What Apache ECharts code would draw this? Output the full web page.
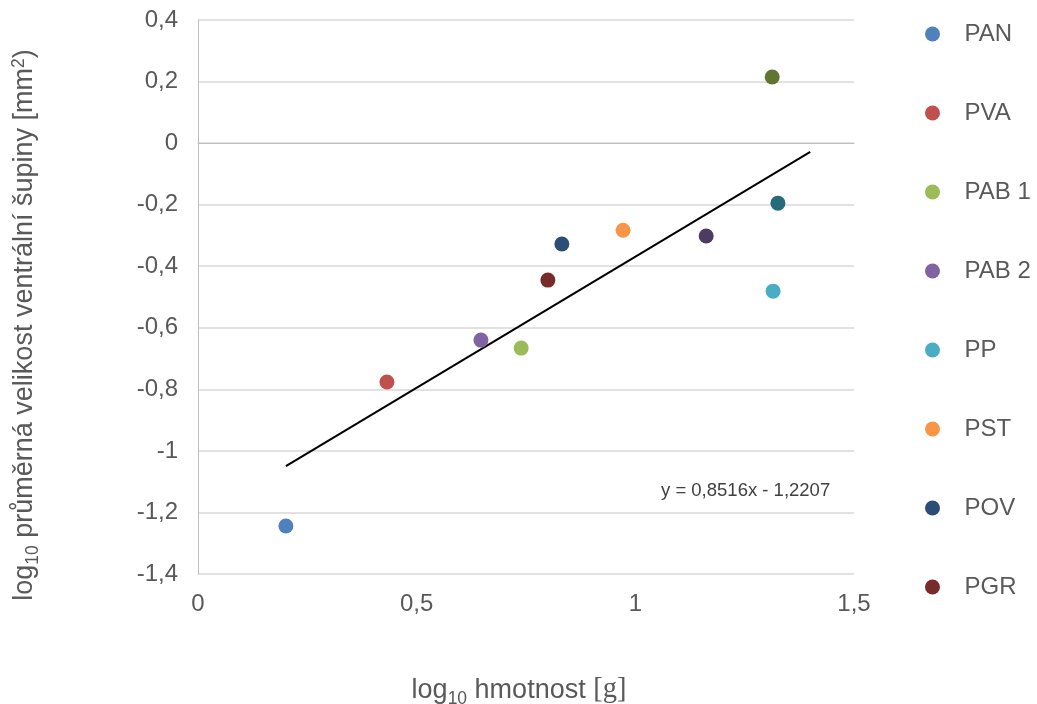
<!DOCTYPE html>
<html>
<head>
<meta charset="utf-8">
<script src="https://cdn.jsdelivr.net/npm/echarts@6/dist/echarts.min.js"></script>
<style>html,body{margin:0;padding:0;background:#fff}#c{width:1037px;height:704px}</style>
</head>
<body>
<div id="c"></div>
<script>
// Data
const seriesNames = ['PAN','PVA','PAB 1','PAB 2','PP','PST','POV','PGR','S9','S10','S11'];
const legendNames = ['PAN','PVA','PAB 1','PAB 2','PP','PST','POV','PGR'];
const xValues = [0.201, 0.432, 0.739, 0.647, 1.315, 0.972, 0.832, 0.800, 1.313, 1.326, 1.162];
const yValues = [-1.244, -0.776, -0.666, -0.640, -0.481, -0.283, -0.328, -0.445, 0.215, -0.195, -0.302];
const colors = ['#4F81BD','#C0504D','#9BBB59','#8064A2','#4BACC6','#F79646','#2C4D75','#772C2A','#5F7530','#276A7C','#4D3B62'];
const trendSlope = 0.8516;
const trendIntercept = -1.2207;
const trendRange = [0.201, 1.4];
const xTicks = [0, 0.5, 1, 1.5];
const yTicks = [-1.4, -1.2, -1, -0.8, -0.6, -0.4, -0.2, 0, 0.2, 0.4];

const fmt = v => String(parseFloat(Number(v).toFixed(2))).replace('.', ',');
const fmtEq = v => String(Math.abs(v)).replace('.', ',');
const FONT = 'Liberation Sans, Arial, sans-serif';

const series = seriesNames.map((n, i) => ({
  name: n,
  type: 'scatter',
  symbol: 'circle',
  symbolSize: 15,
  itemStyle: { color: colors[i], opacity: 1 },
  data: [[xValues[i], yValues[i]]],
  z: 3
}));
series.push({
  name: 'trend',
  type: 'line',
  symbol: 'none',
  silent: true,
  lineStyle: { color: '#000', width: 2 },
  data: trendRange.map(x => [x, trendSlope * x + trendIntercept]),
  z: 2
});

const richTitle = {
  n: { fontSize: 27, color: '#595959', fontFamily: FONT, lineHeight: 30, verticalAlign: 'bottom' },
  s: { fontSize: 17.5, color: '#595959', fontFamily: FONT, lineHeight: 17, verticalAlign: 'bottom', padding: [0, 0, -4, 0] },
  p: { fontSize: 17.5, color: '#595959', fontFamily: FONT, lineHeight: 17, verticalAlign: 'top', padding: [2, 0, 0, 0] },
  g: { fontSize: 28.5, color: '#595959', fontFamily: 'Liberation Serif, Times New Roman, serif', lineHeight: 30, verticalAlign: 'bottom' }
};

const chart = echarts.init(document.getElementById('c'));
chart.setOption({
  animation: false,
  textStyle: { fontFamily: FONT },
  grid: { left: 198, right: 183, top: 20, bottom: 130, outerBoundsMode: 'none', containLabel: false },
  xAxis: {
    type: 'value', min: xTicks[0], max: xTicks[xTicks.length - 1], interval: 0.5,
    axisLine: { show: true, lineStyle: { color: '#BFBFBF', width: 1 } },
    axisTick: { show: false },
    splitLine: { show: false },
    axisLabel: { formatter: fmt, color: '#595959', fontSize: 24, margin: 18, fontFamily: FONT },
    name: '{n|log}{s|10}{n| hmotnost }{g|[g]}',
    nameLocation: 'middle', nameGap: 100,
    nameTextStyle: { padding: [0, 14, 0, 0], rich: richTitle }
  },
  yAxis: {
    type: 'value', min: yTicks[0], max: yTicks[yTicks.length - 1], interval: 0.2,
    axisLine: { show: true, lineStyle: { color: '#BFBFBF', width: 1 } },
    axisTick: { show: false },
    splitLine: { show: true, lineStyle: { color: '#D9D9D9', width: 1.5 } },
    axisLabel: { formatter: fmt, color: '#595959', fontSize: 24, margin: 20, fontFamily: FONT },
    name: '{n|log}{s|10}{n| průměrná velikost ventrální šupiny [mm}{p|2}{n|)}',
    nameLocation: 'middle', nameGap: 160, nameRotate: 90,
    nameTextStyle: { padding: [0, 0, 0, -56], rich: richTitle }
  },
  legend: {
    data: legendNames.map(n => ({ name: n, icon: 'circle' })),
    orient: 'vertical', left: 920, top: 17,
    itemWidth: 54, itemHeight: 15, itemGap: 55,
    textStyle: { color: '#595959', fontSize: 24, fontFamily: FONT },
    selectedMode: false
  },
  graphic: [{
    type: 'text', left: 661, top: 481,
    style: { text: 'y = ' + fmtEq(trendSlope) + 'x - ' + fmtEq(trendIntercept),
             fill: '#404040', font: '18.5px ' + FONT }
  }],
  series: series
});
</script>
</body>
</html>
